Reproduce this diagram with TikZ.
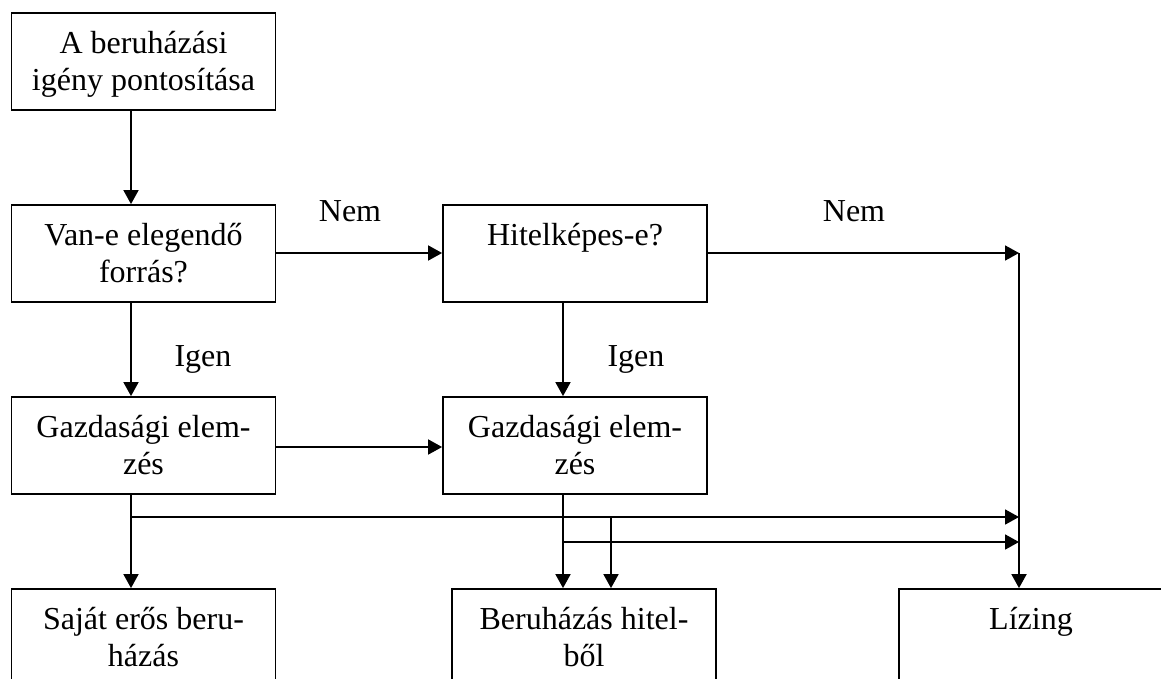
\documentclass[tikz,border=0pt]{standalone}
\usepackage{fontspec}
\setmainfont{Liberation Serif}
\usetikzlibrary{arrows.meta}
\begin{document}
\begin{tikzpicture}[x=1pt, y=-1pt,
  every node/.style={font=\fontsize{32}{37}\selectfont, inner sep=0pt},
  stepbox/.style={draw, line width=1.8pt, minimum width=264pt, minimum height=97pt,
    align=center, text height=62pt, text depth=4pt},
  lbl/.style={anchor=base},
  flow/.style={line width=1.8pt, -{Triangle[length=14pt, width=15pt]}}]
  \useasboundingbox (0,0) rectangle (1161,679);
  \fill[white] (0,0) rectangle (1161,679);
  \clip (0,0) rectangle (1161,679);

  % connector columns and rows
  \coordinate (colA) at (131,0);
  \coordinate (colB) at (563,0);
  \coordinate (colC) at (611,0);
  \coordinate (colD) at (1019,0);
  \coordinate (rowA) at (0,253);
  \coordinate (rowB) at (0,447);
  \coordinate (rowC) at (0,517);
  \coordinate (rowD) at (0,542);

  % boxes
  \node[stepbox] (igeny)  at (143.5,61.5)  {A beruházási\\igény pontosítása};
  \node[stepbox] (forras) at (143.5,253.5) {Van-e elegendő\\forrás?};
  \node[stepbox] (hitel)  at (575,253.5)   {Hitelképes-e?\\\mbox{}};
  \node[stepbox] (gazdA)  at (143.5,445.5) {Gazdasági elem-\\zés};
  \node[stepbox] (gazdB)  at (575,445.5)   {Gazdasági elem-\\zés};
  \node[stepbox] (sajat)  at (143.5,637.5) {Saját erős beru-\\házás};
  \node[stepbox] (hitbol) at (584,637.5)   {Beruházás hitel-\\ből};
  \node[stepbox] (lizing) at (1031,637.5)  {Lízing\\\mbox{}};

  % junction points
  \coordinate (jNem)  at (colD |- rowA);
  \coordinate (jA)    at (colA |- rowC);
  \coordinate (jAend) at (colD |- rowC);
  \coordinate (jC)    at (colC |- rowC);
  \coordinate (jB)    at (colB |- rowD);
  \coordinate (jBend) at (colD |- rowD);

  % main flow
  \draw[flow] (igeny.south -| colA) -- (forras.north -| colA);
  \draw[flow] (forras.east |- rowA) -- (hitel.west |- rowA);
  \draw[flow] (forras.south -| colA) -- (gazdA.north -| colA);
  \draw[flow] (hitel.south -| colB) -- (gazdB.north -| colB);
  \draw[flow] (gazdA.east |- rowB) -- (gazdB.west |- rowB);
  \draw[flow] (hitel.east |- rowA) -- (jNem);
  \draw[flow] (jNem) -- (lizing.north -| colD);

  % outcomes of the two analyses
  \draw[flow] (gazdA.south -| colA) -- (sajat.north -| colA);
  \draw[flow] (jA) -- (jAend);
  \draw[flow] (gazdB.south -| colB) -- (hitbol.north -| colB);
  \draw[flow] (jC) -- (hitbol.north -| colC);
  \draw[flow] (jB) -- (jBend);

  % branch labels
  \node[lbl] (nemA)  at (350,222) {Nem};
  \node[lbl] (nemB)  at (854,222) {Nem};
  \node[lbl] (igenA) at (203,366) {Igen};
  \node[lbl] (igenB) at (636,366) {Igen};
\end{tikzpicture}
\end{document}
